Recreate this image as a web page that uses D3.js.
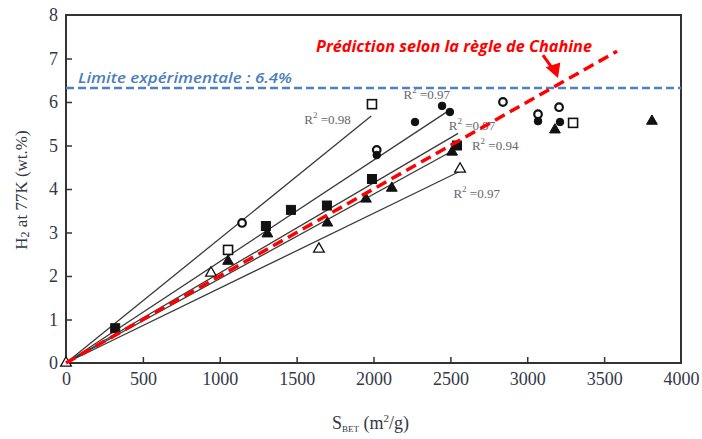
<!DOCTYPE html>
<html lang="fr">
<meta charset="UTF-8">
<title>H2 vs SBET</title>
<style>
body {margin:0; background:#fff}
svg {display:block}
.tick text {font-family:"Liberation Serif", serif; font-size:18px; fill:#333848}
.r2 {font-family:"Liberation Serif", serif; font-size:13px; fill:#66666e}
</style>
<script src="https://d3js.org/d3.v7.min.js"></script>
<body>
<svg id="chart" width="702" height="439"></svg>
<script>
// axis ticks
var xTicks = [0, 500, 1000, 1500, 2000, 2500, 3000, 3500, 4000];
var yTicks = [0, 1, 2, 3, 4, 5, 6, 7, 8];

var filledSquare = [[320, 0.8], [1300, 3.15], [1463, 3.52], [1697, 3.62], [1990, 4.23], [2543, 5.0]];
var openSquare = [[1054, 2.6], [1990, 5.95], [3298, 5.52]];
var filledCircle = [[2021, 4.78], [2270, 5.54], [2446, 5.91], [2497, 5.77], [3070, 5.56], [3213, 5.54]];
var openCircle = [[1145, 3.22], [2021, 4.9], [2842, 6.0], [3070, 5.72], [3207, 5.88]];
var filledTriangle = [[1054, 2.34], [1310, 2.97], [1700, 3.22], [1951, 3.77], [2119, 4.02], [2511, 4.85], [3180, 5.36], [3811, 5.56]];
var openTriangle = [[0, 0], [943, 2.07], [1645, 2.62], [2563, 4.46]];

// linear fits through origin : slope, end of line, R2 label
var fitSlope = [0.00286, 0.00233, 0.00207, 0.00194, 0.00172];
var fitEnd = [1985, 2497, 2550, 2530, 2563];
var fitR2 = ["0.98", "0.97", "0.97", "0.94", "0.97"];
var fitLabelPos = [[1550, 5.5], [2195, 6.07], [2490, 5.36], [2640, 4.9], [2520, 3.8]];

// Chahine rule : 1 wt% per 500 m2/g
var chahineSlope = 0.002;
var chahineEnd = 3584;
var expLimit = 6.32;

var svg = d3.select("#chart");
var x = d3.scaleLinear().domain([0, 4000]).range([66, 681]);
var y = d3.scaleLinear().domain([0, 8]).range([363, 15]);

svg.append("rect").attr("width", 702).attr("height", 439).attr("fill", "#fff");

// axes with inside ticks
var xAxis = svg.append("g").attr("transform", "translate(0,363)")
    .call(d3.axisBottom(x).tickValues(xTicks).tickFormat(d3.format("d"))
        .tickSizeInner(-6).tickSizeOuter(0).tickPadding(9));
var yAxis = svg.append("g").attr("transform", "translate(66,0)")
    .call(d3.axisLeft(y).tickValues(yTicks).tickFormat(d3.format("d"))
        .tickSizeInner(-6).tickSizeOuter(0).tickPadding(8));
svg.selectAll(".domain").remove();
svg.selectAll(".tick line").attr("stroke", "#333").attr("stroke-width", 1.5);
xAxis.selectAll(".tick").filter(function(d) { return d == 0 || d == 4000; }).select("line").remove();
yAxis.selectAll(".tick").filter(function(d) { return d == 0 || d == 8; }).select("line").remove();

svg.append("rect")
    .attr("x", x(0)).attr("y", y(8))
    .attr("width", x(4000) - x(0)).attr("height", y(0) - y(8))
    .attr("fill", "none").attr("stroke", "#333").attr("stroke-width", 2);

// fit lines
svg.append("g").selectAll("line").data(fitSlope).enter().append("line")
    .attr("x1", x(0)).attr("y1", y(0))
    .attr("x2", function(d, i) { return x(fitEnd[i]); })
    .attr("y2", function(d, i) { return y(d * fitEnd[i]); })
    .attr("stroke", "#3a3a3a").attr("stroke-width", 1.3);

var r2 = svg.append("g").selectAll("text").data(fitR2).enter().append("text")
    .attr("class", "r2")
    .attr("x", function(d, i) { return x(fitLabelPos[i][0]); })
    .attr("y", function(d, i) { return y(fitLabelPos[i][1]); });
r2.append("tspan").text("R");
r2.append("tspan").attr("dy", -6).attr("font-size", 9).text("2");
r2.append("tspan").attr("dy", 6).text(function(d) { return " =" + d; });

// markers
var sq = 9, rad = 3.8;
function squares(data, filled) {
    svg.append("g").selectAll("rect").data(data).enter().append("rect")
        .attr("x", function(d) { return x(d[0]) - sq / 2; })
        .attr("y", function(d) { return y(d[1]) - sq / 2; })
        .attr("width", sq).attr("height", sq)
        .attr("fill", filled ? "#111" : "#fff")
        .attr("stroke", "#111").attr("stroke-width", filled ? 1 : 1.6);
}
function circles(data, filled) {
    svg.append("g").selectAll("circle").data(data).enter().append("circle")
        .attr("cx", function(d) { return x(d[0]); })
        .attr("cy", function(d) { return y(d[1]); })
        .attr("r", rad)
        .attr("fill", filled ? "#111" : "#fff")
        .attr("stroke", "#111").attr("stroke-width", filled ? 1 : 2.2);
}
var tri = d3.symbol().type(d3.symbolTriangle).size(50);
function triangles(data, filled) {
    svg.append("g").selectAll("path").data(data).enter().append("path")
        .attr("d", tri)
        .attr("transform", function(d) { return "translate(" + x(d[0]) + "," + y(d[1]) + ")"; })
        .attr("fill", filled ? "#111" : "#fff")
        .attr("stroke", "#111").attr("stroke-width", filled ? 1 : 1.3);
}
squares(openSquare, false);
squares(filledSquare, true);
triangles(openTriangle, false);
triangles(filledTriangle, true);
circles(openCircle, false);
circles(filledCircle, true);

// experimental limit
svg.append("line")
    .attr("x1", x(0)).attr("x2", x(4000))
    .attr("y1", y(expLimit)).attr("y2", y(expLimit))
    .attr("stroke", "#4f81bd").attr("stroke-width", 2.5).attr("stroke-dasharray", "8,4");
svg.append("text")
    .attr("x", 78).attr("y", 83)
    .attr("font-family", "Open Sans, sans-serif").attr("font-style", "italic").attr("font-weight", 600)
    .attr("font-size", 15).attr("fill", "#4a7ebb")
    .attr("textLength", 214).attr("lengthAdjust", "spacingAndGlyphs")
    .text("Limite expérimentale : 6.4%");

// Chahine prediction
svg.append("line")
    .attr("x1", x(0)).attr("y1", y(0))
    .attr("x2", x(chahineEnd)).attr("y2", y(chahineSlope * chahineEnd))
    .attr("stroke", "#ff0000").attr("stroke-width", 3.5).attr("stroke-dasharray", "11,6");
svg.append("text")
    .attr("x", 316).attr("y", 52)
    .attr("font-family", "Open Sans, sans-serif").attr("font-style", "italic").attr("font-weight", "bold")
    .attr("font-size", 16).attr("fill", "#ff0000")
    .attr("textLength", 276).attr("lengthAdjust", "spacingAndGlyphs")
    .text("Prédiction selon la règle de Chahine");

// arrow
svg.append("line")
    .attr("x1", x(3102)).attr("y1", y(7.08))
    .attr("x2", x(3165)).attr("y2", y(6.77))
    .attr("stroke", "#ff0000").attr("stroke-width", 3);
svg.append("path")
    .attr("d", "M" + x(3200) + "," + y(6.55) + "L" + x(3120) + "," + y(6.8) + "L" + x(3215) + "," + y(6.91) + "Z")
    .attr("fill", "#ff0000");

// axis titles
svg.append("text")
    .attr("transform", "translate(27,190) rotate(-90)")
    .attr("text-anchor", "middle")
    .attr("font-family", "Liberation Serif, serif").attr("font-size", 17).attr("fill", "#333848")
    .html("H<tspan font-size='12' dy='2'>2</tspan><tspan dy='-2'> at 77K (wt.%)</tspan>");

var xt = svg.append("text")
    .attr("x", 332).attr("y", 429)
    .attr("font-family", "Liberation Serif, serif").attr("font-size", 18).attr("fill", "#333848");
xt.append("tspan").text("S");
xt.append("tspan").attr("font-size", 9).attr("dy", 3).text("BET");
xt.append("tspan").attr("dy", -3).text(" (m");
xt.append("tspan").attr("font-size", 11).attr("dy", -7).text("2");
xt.append("tspan").attr("dy", 7).text("/g)");
</script>
</body>
</html>
